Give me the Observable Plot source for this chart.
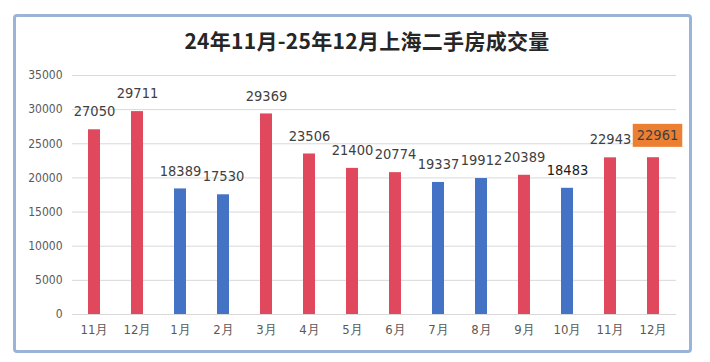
<!DOCTYPE html>
<html>
<head>
<meta charset="utf-8">
<script src="https://cdn.jsdelivr.net/npm/d3@7"></script>
<script src="https://cdn.jsdelivr.net/npm/@observablehq/plot@0.6"></script>
<style>
  html, body { margin: 0; padding: 0; background: #fff; }
  #wrap { position: relative; width: 710px; height: 362px; overflow: hidden; }
  #frame { position: absolute; left: 13px; top: 14px; width: 673px; height: 333px;
           border: 3px solid #9AB3D8; border-radius: 4px; box-sizing: content-box; }
  #title { position: absolute; left: 12px; width: 710px; top: 25px; text-align: center;
           font-family: "Noto Sans CJK SC", sans-serif; font-weight: 700; font-size: 21px;
           color: #262626; letter-spacing: 0.3px; }
  #chart { position: absolute; left: 0; top: 0; }
  #chart svg text { font-stretch: condensed; }
</style>
</head>
<body>
<div id="wrap">
  <div id="frame"></div>
  <div id="chart"></div>
  <div id="title">24年11月-25年12月上海二手房成交量</div>
</div>
<script>
const months = ["11月","12月","1月","2月","3月","4月","5月","6月","7月","8月","9月","10月","11月","12月"];
const volumes = [27050, 29711, 18389, 17530, 29369, 23506, 21400, 20774, 19337, 19912, 20389, 18483, 22943, 22961];
const groups = ["红","红","蓝","蓝","红","红","红","红","蓝","蓝","红","蓝","红","红"];
const yTicks = [0, 5000, 10000, 15000, 20000, 25000, 30000, 35000];
const highlightIndex = 13;

const data = months.map((m, i) => ({i, month: m, value: volumes[i], group: groups[i]}));
const normal = data.filter(d => d.i !== highlightIndex);
const highlighted = data.filter(d => d.i === highlightIndex);
const narrow = "'Liberation Sans Narrow', 'DejaVu Sans', sans-serif";

const plot = Plot.plot({
  width: 710,
  height: 362,
  marginLeft: 72,
  marginRight: 34,
  marginTop: 75,
  marginBottom: 48,
  style: {fontFamily: narrow, background: "transparent"},
  x: {domain: d3.range(months.length), paddingInner: 0.72, paddingOuter: 0.36, label: null, tickSize: 0, tickPadding: 10,
      tickFormat: i => months[i]},
  y: {domain: [0, 35000], ticks: yTicks, label: null, tickSize: 0, tickPadding: 10, grid: false},
  color: {domain: ["红", "蓝"], range: ["#E0485E", "#4472C4"]},
  marks: [
    Plot.gridY(yTicks, {stroke: "#D9D9D9", strokeOpacity: 1, strokeWidth: 1}),
    Plot.barY(data, {x: "i", y: "value", fill: "group"}),
    Plot.axisX({tickSize: 0, tickPadding: 10, tickFormat: i => months[i], fontSize: 13, fill: "#595959", label: null}),
    Plot.axisY({ticks: yTicks, tickSize: 0, tickPadding: 10, fontSize: 12, fill: "#595959", label: null, tickFormat: d => String(d)}),
    Plot.text(normal, {x: "i", y: "value", text: d => String(d.value), dy: -18, fontSize: 14.5,
      fill: d => d.i === 11 ? "#1a1a1a" : "#404040"}),
    Plot.text(highlighted, {x: "i", y: "value", text: d => String(d.value), dy: -22, dx: 4, fontSize: 14.5,
      fill: "#404040", className: "hilabel"})
  ]
});
document.getElementById("chart").appendChild(plot);

// orange highlight box behind the last label
const t = plot.querySelector("g.hilabel text");
if (t) {
  const b = t.getBBox();
  const rect = document.createElementNS("http://www.w3.org/2000/svg", "rect");
  const w = Math.max(b.width + 8, 48);
  rect.setAttribute("x", b.x + b.width / 2 - w / 2);
  rect.setAttribute("y", b.y + b.height / 2 - 11.5);
  rect.setAttribute("width", w);
  rect.setAttribute("height", 23);
  rect.setAttribute("fill", "#EC7F32");
  const tr = t.getAttribute("transform");
  if (tr) rect.setAttribute("transform", tr);
  t.parentNode.insertBefore(rect, t);
}
</script>
</body>
</html>
